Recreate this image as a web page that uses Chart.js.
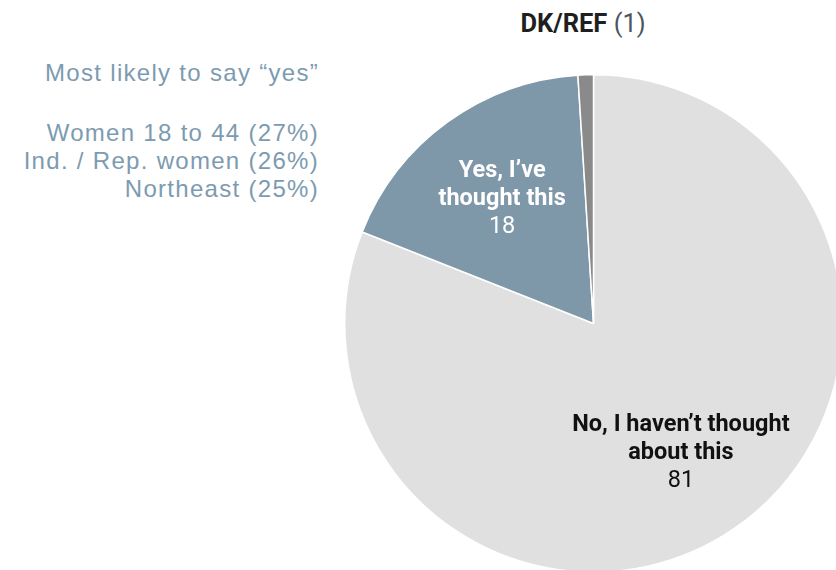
<!DOCTYPE html>
<html>
<head>
<meta charset="utf-8">
<script src="https://cdn.jsdelivr.net/npm/chart.js@4/dist/chart.umd.min.js"></script>
<style>
  html, body { margin: 0; padding: 0; background: #ffffff; overflow: hidden; width: 836px; height: 570px; }
  #pieBox { position: absolute; left: 344px; top: 74px; width: 499px; height: 499px; }
  #title { position: absolute; left: 483px; width: 200px; top: 8px; text-align: center;
           font-family: Roboto, sans-serif; font-size: 25.5px; line-height: 30px; color: #1f1f1f; }
  #title b { font-weight: 700; }
  #title span { color: #4a5561; }
  #note { position: absolute; right: 517px; top: 59px; text-align: right; white-space: nowrap;
          font-family: "Liberation Sans", Arial, sans-serif; font-size: 24px; line-height: 28px;
          color: #7d9bb0; letter-spacing: 1.3px; }
  #note .head { margin-bottom: 32px; }
</style>
</head>
<body>
<div id="title"></div>
<div id="note"></div>
<div id="pieBox"><canvas id="pie"></canvas></div>
<script>
// Survey answers, clockwise from 12 o'clock
const categories = ["No, I haven’t thought about this", "Yes, I’ve thought this", "DK/REF"];
const values = [81, 18, 1];
// Wrapped label lines drawn inside each slice (DK/REF is labelled above the pie)
const sliceLabelLines = [["No, I haven’t thought", "about this"], ["Yes, I’ve", "thought this"], []];
const sliceColors = ["#e0e0e0", "#7e97a9", "#8a8a8a"];
const labelColors = ["#111111", "#ffffff", "#111111"];

// Side note listing groups most likely to answer yes
const noteHeading = "Most likely to say “yes”";
const noteGroups = ["Women 18 to 44", "Ind. / Rep. women", "Northeast"];
const noteShares = [27, 26, 25];

const titleEl = document.getElementById("title");
titleEl.innerHTML = "<b>" + categories[2] + "</b> <span>(" + values[2] + ")</span>";

const noteEl = document.getElementById("note");
const head = document.createElement("div");
head.className = "head";
head.textContent = noteHeading;
noteEl.appendChild(head);
noteGroups.forEach((g, i) => {
  const d = document.createElement("div");
  d.textContent = g + " (" + noteShares[i] + "%)";
  noteEl.appendChild(d);
});

// Draws the wrapped category name (bold) and its value inside each slice
const sliceLabels = {
  id: "sliceLabels",
  afterDatasetsDraw(chart) {
    const ctx = chart.ctx;
    const meta = chart.getDatasetMeta(0);
    meta.data.forEach((arc, i) => {
      const lines = sliceLabelLines[i];
      if (!lines.length) return;
      const p = arc.getProps(["x", "y", "startAngle", "endAngle", "outerRadius"], true);
      const mid = (p.startAngle + p.endAngle) / 2;
      const r = p.outerRadius * 0.625;
      const cx = p.x + Math.cos(mid) * r;
      const cy = p.y + Math.sin(mid) * r;
      const lh = 28;
      const total = lines.length + 1;
      let y = cy - (total - 1) * lh / 2 + 1;
      ctx.save();
      ctx.textAlign = "center";
      ctx.textBaseline = "middle";
      ctx.fillStyle = labelColors[i];
      ctx.font = "700 23.5px Roboto";
      lines.forEach(line => { ctx.fillText(line, cx, y); y += lh; });
      ctx.font = "400 23.5px Roboto";
      ctx.fillText(String(chart.data.datasets[0].data[i]), cx, y);
      ctx.restore();
    });
  }
};

new Chart(document.getElementById("pie"), {
  type: "pie",
  data: {
    labels: categories,
    datasets: [{
      data: values,
      backgroundColor: sliceColors,
      borderColor: "#ffffff",
      borderWidth: 1.5
    }]
  },
  options: {
    responsive: true,
    maintainAspectRatio: false,
    animation: false,
    layout: { padding: 0 },
    plugins: { legend: { display: false }, tooltip: { enabled: false } }
  },
  plugins: [sliceLabels]
});
</script>
</body>
</html>
